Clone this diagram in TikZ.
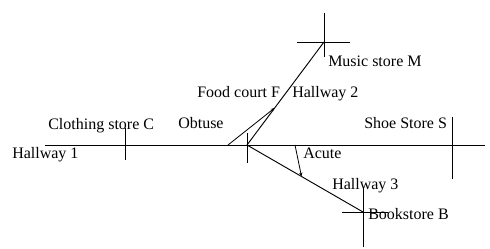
\documentclass[tikz,border=0pt]{standalone}
\usepackage{fontspec}
\setmainfont{Liberation Serif}
\usetikzlibrary{positioning,calc,arrows.meta}

\begin{document}
\begin{tikzpicture}[x=0.75pt,y=-0.75pt,
    hall/.style={draw=black,line width=0.7pt},
    tick/.style={draw=black,line width=0.7pt},
    anglemark/.style={draw=black,line width=0.6pt,-{Stealth[length=3pt,width=2.4pt]}},
    lbl/.style={font=\fontsize{12}{14}\selectfont,inner sep=0pt,anchor=base west},
  ]
    \useasboundingbox (0,0) rectangle (490,249);

    % points along the hallways
    \coordinate (west)  at (45,145);
    \coordinate (east)  at (485,145);
    \coordinate (junc)  at (247,145);
    \coordinate (cloth) at (125,145);
    \coordinate (shoe)  at (452,145);
    \coordinate (music) at (324,42);
    \coordinate (book)  at (363,212);

    % hallways
    \draw[hall] (west) -- (east);
    \draw[hall] (junc) -- (music);
    \draw[hall] (junc) -- (book);

    % store ticks
    \draw[tick] (cloth) ++(0,-17) -- ++(0,32);
    \draw[tick] (junc) ++(0,-12) -- ++(0,30);
    \draw[tick] (shoe) ++(0,-28) -- ++(0,62);
    \draw[tick] (music) ++(-27,0) -- ++(53,0);
    \draw[tick] (music) ++(0,-29) -- ++(0,44);
    \draw[tick] (book) ++(-21,0) -- ++(46,0);
    \draw[tick] (book) ++(0,-25) -- ++(0,60);

    % angle marks
    \coordinate (obtA) at (228,145);
    \coordinate (obtB) at ($(junc)!0.36!(music)$);
    \coordinate (acuA) at (295,145);
    \coordinate (acuB) at ($(junc)!0.47!(book)$);
    \draw[anglemark] (obtA) -- (obtB);
    \draw[anglemark] (acuA) -- (acuB);

    % labels
    \node[lbl] (clothlbl) at (48,130)  {Clothing store C};
    \node[lbl] (hall1)    at (12,159)  {Hallway 1};
    \node[lbl] (obtlbl)   at (178,129) {Obtuse};
    \node[lbl] (foodlbl)  at (197,98)  {Food court F};
    \node[lbl] (hall2)    at (292,98)  {Hallway 2};
    \node[lbl] (musiclbl) at (328,67)  {Music store M};
    \node[lbl] (shoelbl)  at (364,129) {Shoe Store S};
    \node[lbl] (aculbl)   at (303,159) {Acute};
    \node[lbl] (hall3)    at (332,190) {Hallway 3};
    \node[lbl] (booklbl)  at (368,220) {Bookstore B};
  \end{tikzpicture}
\end{document}
